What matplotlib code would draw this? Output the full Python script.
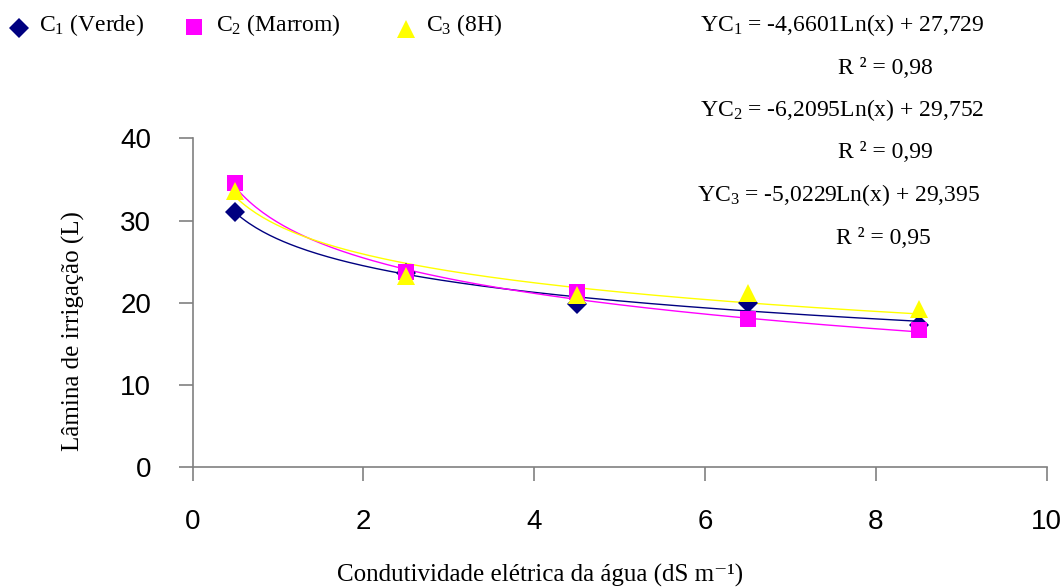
import numpy as np
import matplotlib
matplotlib.use("Agg")
import matplotlib.pyplot as plt
from matplotlib.lines import Line2D

plt.rcParams['mathtext.fontset'] = 'custom'
plt.rcParams['mathtext.rm'] = 'Liberation Serif'
plt.rcParams['mathtext.it'] = 'Liberation Serif:italic'

# Data
x_vals = [0.5, 2.5, 4.5, 6.5, 8.5]
c1_vals = [31.0, 23.6, 19.8, 20.0, 17.3]
c2_vals = [34.6, 23.8, 21.3, 18.0, 16.7]
c3_vals = [33.6, 23.2, 20.9, 21.2, 19.2]

# Trendline coefficients (a*ln(x) + b), as printed on chart
c1_fit = (-4.6601, 27.729)
c2_fit = (-6.2095, 29.752)
c3_fit = (-5.0229, 29.395)

series_names = ["C$_1$ (Verde)", "C$_2$ (Marrom)", "C$_3$ (8H)"]
equations = ["YC$_1$ = -4,6601Ln(x) + 27,729", "R \u00b2 = 0,98",
             "YC$_2$ = -6,2095Ln(x) + 29,752", "R \u00b2 = 0,99",
             "YC$_3$ = -5,0229Ln(x) + 29,395", "R \u00b2 = 0,95"]
x_ticks = [0, 2, 4, 6, 8, 10]
y_ticks = [0, 10, 20, 30, 40]

colors = ["#000080", "#FF00FF", "#FFFF00"]
markers = ["D", "s", "^"]
msizes = [10.5, 11.5, 13]

W, H = 1061, 588
fig = plt.figure(figsize=(W / 100, H / 100), dpi=100)
ax = fig.add_axes([0.1816, 0.2053, 0.8049, 0.5595])

xs = np.linspace(x_vals[0], x_vals[-1], 200)
fits = [c1_fit, c2_fit, c3_fit]
ys = [c1_vals, c2_vals, c3_vals]
for fit, col in zip(fits, colors):
    ax.plot(xs, fit[0] * np.log(xs) + fit[1], color=col, lw=1.0, zorder=2)
for yv, col, mk, ms in zip(ys, colors, markers, msizes):
    ax.plot(x_vals, yv, linestyle='none', marker=mk, color=col, markersize=ms,
            markeredgewidth=0, zorder=3)

ax.set_xlim(0, 10)
ax.set_ylim(0, 40)
ax.set_xticks(x_ticks)
ax.set_yticks(y_ticks)
for s in ['top', 'right']:
    ax.spines[s].set_visible(False)
for s in ['left', 'bottom']:
    ax.spines[s].set_color('#808080')
    ax.spines[s].set_linewidth(1.2)
ax.tick_params(axis='both', colors='#808080', length=10, width=1.2,
               labelcolor='black', labelsize=20)
ax.tick_params(axis='x', pad=20)
ax.tick_params(axis='y', pad=20)
for lbl in ax.get_xticklabels() + ax.get_yticklabels():
    lbl.set_fontfamily('Liberation Sans')

fig.text(73 / W, 1 - 331 / H, "Lâmina de irrigação (L)", rotation=90,
         fontfamily='Liberation Serif', fontsize=18, ha='center', va='center')
fig.text(540 / W, 1 - 582 / H, "Condutividade elétrica da água (dS m\u207b\u00b9)",
         family=['Liberation Serif', 'DejaVu Serif'], fontsize=18,
         ha='center', va='baseline')

# Legend (manual placement, top-left)
leg_marker_px = [(19, 28), (194, 27), (406, 29)]
leg_text_px = [39, 216, 426]
for name, col, mk, ms, (mx, my), tx in zip(series_names, colors, markers,
                                          msizes, leg_marker_px, leg_text_px):
    fig.add_artist(Line2D([mx / W], [1 - my / H], transform=fig.transFigure,
                          linestyle='none', marker=mk, color=col,
                          markersize=ms, markeredgewidth=0))
    fig.text(tx / W, 1 - 25 / H, name, fontfamily='Liberation Serif',
             fontsize=17, ha='left', va='center')

eq_pos = [(842, 25), (885, 68), (842, 110), (885, 153), (839, 195), (883, 238)]
for txt, (px, py) in zip(equations, eq_pos):
    fig.text(px / W, 1 - py / H, txt, fontfamily='Liberation Serif',
             fontsize=17, ha='center', va='center')

fig.savefig("out.png", dpi=100)
